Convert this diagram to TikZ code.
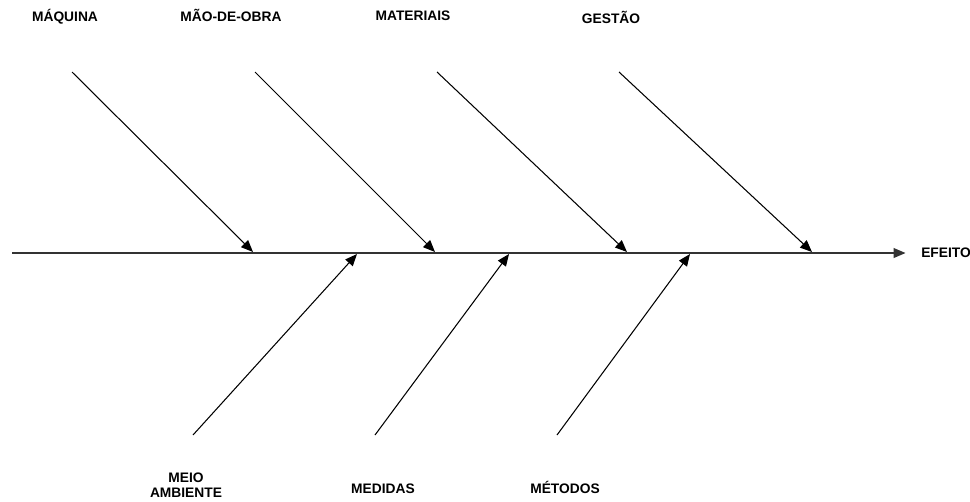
\documentclass[tikz,border=0pt]{standalone}
\usepackage{fontspec}
\setmainfont{Liberation Sans}
\usepackage{tikz}
\usetikzlibrary{arrows.meta}

\begin{document}
\begin{tikzpicture}[
  x=0.025cm, y=-0.025cm,
  >={Triangle[length=8.5pt, width=7pt]},
  cause/.style={font=\fontsize{9.8}{11}\selectfont\bfseries, align=center, inner sep=0pt},
  bone/.style={->, line width=0.75pt, black},
  spine/.style={->, line width=0.9pt, black!80},
]
\useasboundingbox (0,0) rectangle (970,501);

% ===== SPINE =====
\coordinate (tail) at (12,253);
\node[cause, anchor=west] (effect) at (921,253) {EFEITO};
\draw[spine] (tail) -- ([xshift=-11pt]effect.west);

% ===== TOP CAUSES =====
\node[cause] (maquina) at (65,17) {MÁQUINA};
\node[cause] (maoobra) at (231,15) {MÃO-DE-OBRA};
\node[cause] (materiais) at (413,16) {MATERIAIS};
\node[cause] (gestao) at (611,17) {GESTÃO};

\coordinate (s1) at (72,72);   \coordinate (e1) at (253,252);
\coordinate (s2) at (255,72);  \coordinate (e2) at (435,252);
\coordinate (s3) at (437,72);  \coordinate (e3) at (627,252);
\coordinate (s4) at (619,72);  \coordinate (e4) at (812,252);

\draw[bone] (s1) -- (e1);
\draw[bone] (s2) -- (e2);
\draw[bone] (s3) -- (e3);
\draw[bone] (s4) -- (e4);

% ===== BOTTOM CAUSES =====
\node[cause] (ambiente) at (186,485) {MEIO\\AMBIENTE};
\node[cause] (medidas) at (383,489) {MEDIDAS};
\node[cause] (metodos) at (565,487) {MÉTODOS};

\coordinate (s5) at (193,435); \coordinate (e5) at (357,254);
\coordinate (s6) at (375,435); \coordinate (e6) at (509,254);
\coordinate (s7) at (557,435); \coordinate (e7) at (690,254);

\draw[bone] (s5) -- (e5);
\draw[bone] (s6) -- (e6);
\draw[bone] (s7) -- (e7);

\end{tikzpicture}
\end{document}
